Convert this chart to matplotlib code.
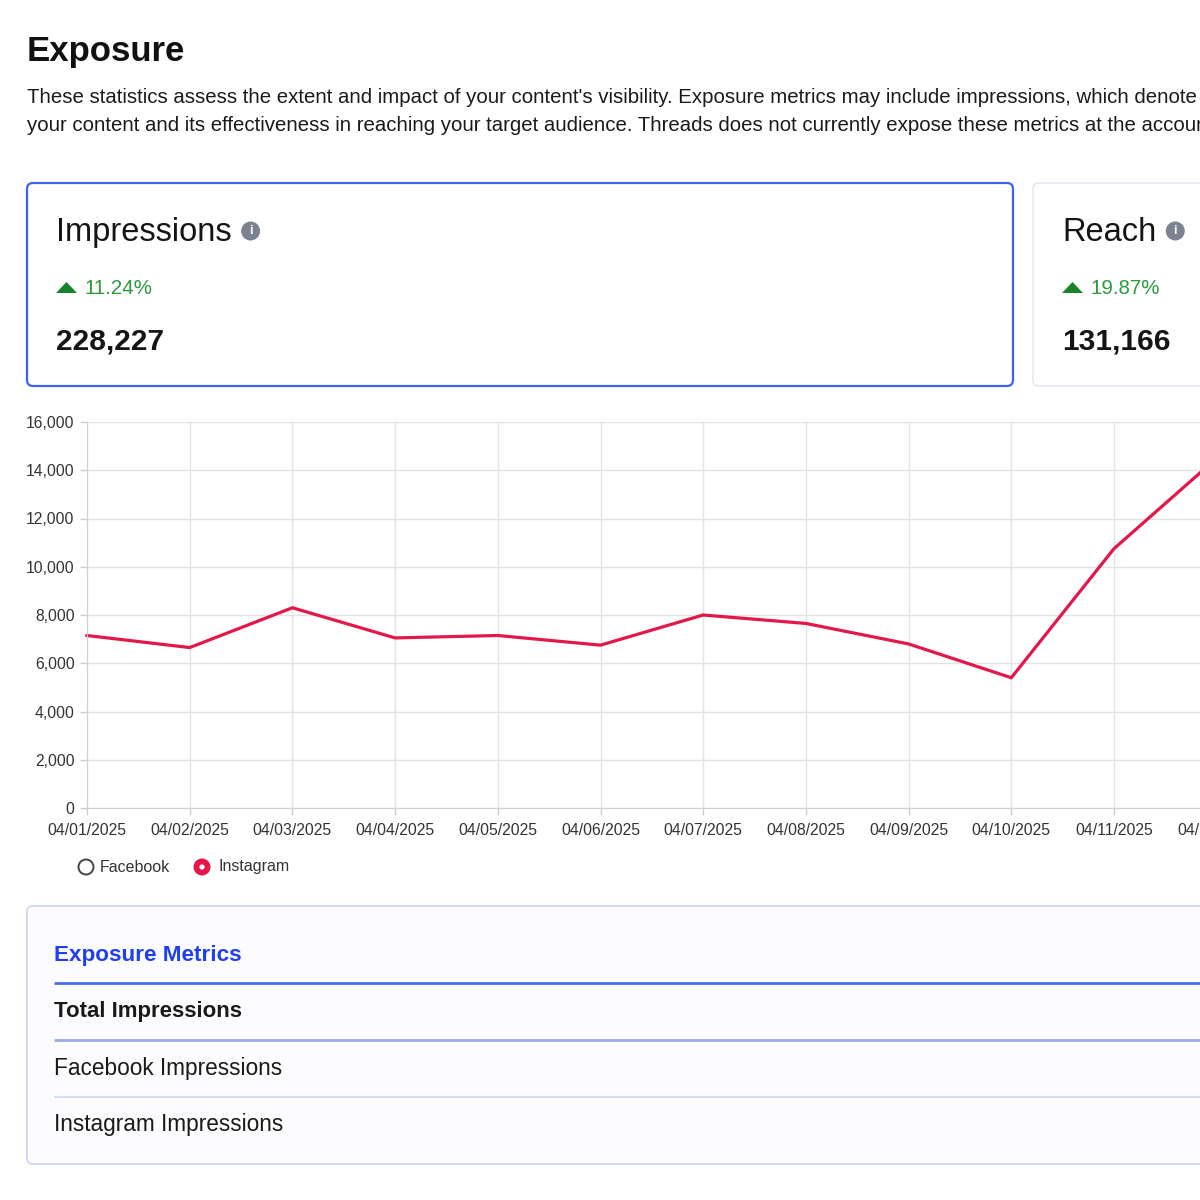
import matplotlib
matplotlib.use('Agg')
import matplotlib.pyplot as plt
from matplotlib.patches import FancyBboxPatch, Circle, Polygon

plt.rcParams['font.family'] = ['Liberation Sans', 'DejaVu Sans']

# data
dates = ['04/01/2025', '04/02/2025', '04/03/2025', '04/04/2025', '04/05/2025', '04/06/2025',
         '04/07/2025', '04/08/2025', '04/09/2025', '04/10/2025', '04/11/2025', '04/12/2025']
instagram = [7150, 6650, 8300, 7050, 7150, 6750, 8000, 7650, 6800, 5400, 10750, 14500]
y_ticks = [0, 2000, 4000, 6000, 8000, 10000, 12000, 14000, 16000]
cards = ['Impressions', 'Reach']
card_change = ['11.24%', '19.87%']
card_total = ['228,227', '131,166']
table_rows = ['Total Impressions', 'Facebook Impressions', 'Instagram Impressions']

title = 'Exposure'
desc1 = ("These statistics assess the extent and impact of your content's visibility. "
         "Exposure metrics may include impressions, which denote")
desc2 = ("your content and its effectiveness in reaching your target audience. "
         "Threads does not currently expose these metrics at the account level.")

W = 1200
fig = plt.figure(figsize=(12, 12), dpi=100)
fig.patch.set_facecolor('white')
renderer = fig.canvas.get_renderer()

# overlay in pixel coordinates (y down) for the dashboard furniture
bg = fig.add_axes([0, 0, 1, 1])
bg.set_xlim(0, W)
bg.set_ylim(W, 0)
bg.axis('off')

bg.text(27, 61, title, fontsize=25, fontweight='bold', color='#111111', va='baseline')
bg.text(27, 103, desc1, fontsize=14.7, color='#1a1a1a', va='baseline')
bg.text(27, 131, desc2, fontsize=14.7, color='#1a1a1a', va='baseline')

# metric cards
card_x = [27, 1033]
card_w = [986, 220]
edge = ['#3d63f0', '#e0e4f2']
lw = [1.6, 1.0]
for i in range(2):
    bg.add_patch(FancyBboxPatch((card_x[i], 183), card_w[i], 203,
                                boxstyle='round,pad=0,rounding_size=6',
                                fc='white', ec=edge[i], lw=lw[i]))
    x0 = card_x[i] + 29
    t = bg.text(x0, 241, cards[i], fontsize=23.5, color='#151515', va='baseline')
    ext = t.get_window_extent(renderer)
    cx = ext.x1 + 19
    bg.add_patch(Circle((cx, 231), 9.5, fc='#7b8391', ec='none'))
    bg.text(cx, 231.5, 'i', fontsize=9, fontweight='bold', color='white',
            ha='center', va='center')
    bg.add_patch(Polygon([(x0, 293), (x0 + 21, 293), (x0 + 10.5, 282)],
                         closed=True, fc='#17842a', ec='none'))
    bg.text(x0 + 29, 293.5, card_change[i], fontsize=14.8, color='#2b9b3c', va='baseline')
    bg.text(x0, 350, card_total[i], fontsize=21.5, fontweight='bold', color='#151515',
            va='baseline')

# legend
bg.add_patch(Circle((86, 867), 7.5, fc='white', ec='#444444', lw=1.4))
bg.text(100, 867, 'Facebook', fontsize=11.5, color='#333333', va='center')
bg.add_patch(Circle((202, 867), 8.5, fc='#e3174a', ec='none'))
bg.add_patch(Circle((202, 867), 2.6, fc='white', ec='none'))
bg.text(218, 867, 'Instagram', fontsize=11.5, color='#333333', va='center')

# metrics table panel
bg.add_patch(FancyBboxPatch((27, 906), 1230, 258, boxstyle='round,pad=0,rounding_size=6',
                            fc='#fcfcff', ec='#cbd3f7', lw=1.2))
bg.text(54, 961.5, 'Exposure Metrics', fontsize=16.2, fontweight='bold', color='#1f3ff0',
        va='baseline')
bg.plot([54, W], [982.5, 982.5], color='#4a6ee8', lw=2.0, solid_capstyle='butt')
bg.text(54, 1016.5, table_rows[0], fontsize=16, fontweight='bold', color='#1a1a1a',
        va='baseline')
bg.plot([54, W], [1040, 1040], color='#9aabef', lw=2.0, solid_capstyle='butt')
bg.text(54, 1075, table_rows[1], fontsize=16.3, color='#1a1a1a', va='baseline')
bg.plot([54, W], [1096.5, 1096.5], color='#d3daf6', lw=1.3, solid_capstyle='butt')
bg.text(54, 1130.5, table_rows[2], fontsize=16.3, color='#1a1a1a', va='baseline')

# line chart
step = 102.7
ax = fig.add_axes([87 / W, 1 - 808 / W, 11 * step / W, 386 / W])
ax.set_facecolor('none')
xs = list(range(len(dates)))
ax.plot(xs, instagram, color='#e3174a', lw=2.3, solid_joinstyle='miter', clip_on=False)
ax.set_xlim(0, len(dates) - 1)
ax.set_ylim(0, 16000)
ax.set_xticks(xs)
ax.set_xticklabels(dates)
ax.set_yticks(y_ticks)
ax.set_yticklabels([f'{v:,}' for v in y_ticks])
ax.tick_params(axis='both', labelsize=11.3, colors='#cccccc', labelcolor='#333333',
               length=5, width=1)
ax.tick_params(axis='x', pad=6)
ax.tick_params(axis='y', pad=4)
ax.grid(True, color='#e3e3e3', lw=1)
ax.set_axisbelow(True)
for s in ['top', 'right']:
    ax.spines[s].set_visible(False)
for s in ['left', 'bottom']:
    ax.spines[s].set_color('#d0d0d0')

fig.savefig('out.png', dpi=100, facecolor='white')
